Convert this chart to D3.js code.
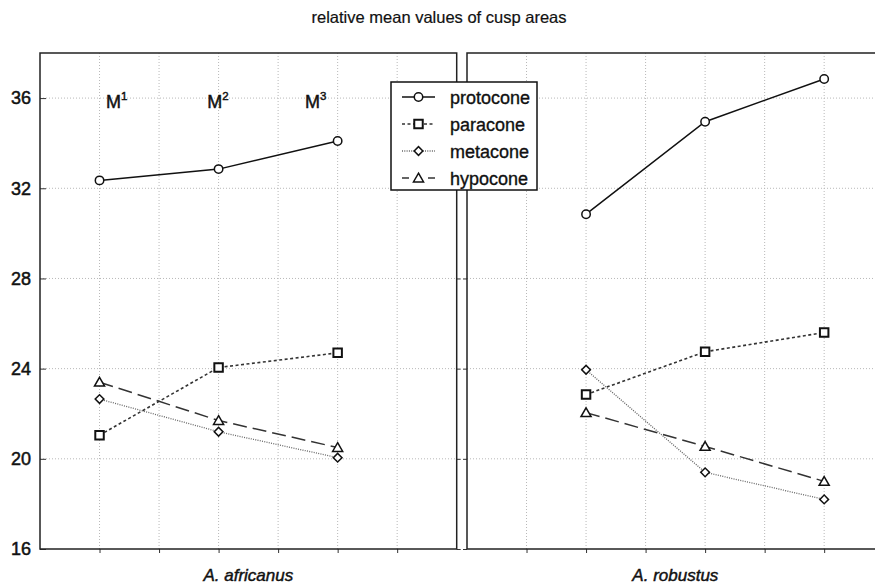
<!DOCTYPE html>
<html>
<head>
<meta charset="utf-8">
<script src="https://cdn.jsdelivr.net/npm/d3@7"></script>
<style>
body { margin: 0; background: #fff; }
svg { display: block; font-family: "Liberation Sans", Arial, sans-serif; }
.grid line { stroke: #b8b8b8; stroke-width: 1px; stroke-dasharray: 1,2; }
.frame { fill: none; stroke: #222; stroke-width: 1.5px; }
.axis path { display: none; }
.axis line { stroke: #333; }
.axis text { font-size: 18px; fill: #111; stroke: #111; stroke-width: 0.5px; }
.title { font-size: 16.5px; fill: #111; stroke: #111; stroke-width: 0.2px; }
.panel-label { font-size: 17px; font-style: italic; fill: #111; stroke: #111; stroke-width: 0.45px; }
.molar { font-size: 18px; fill: #111; stroke: #111; stroke-width: 0.45px; }
.legend text { font-size: 18px; fill: #111; stroke: #111; stroke-width: 0.35px; }
</style>
</head>
<body>
<svg id="chart" width="875" height="585"></svg>
<script>
// data
var taxa = ['A. africanus', 'A. robustus'];
var molars = ['1', '2', '3'];
var cusps = ['protocone', 'paracone', 'metacone', 'hypocone'];
var africanus = {
	protocone: [32.35, 32.85, 34.1],
	paracone: [21.05, 24.05, 24.7],
	metacone: [22.65, 21.2, 20.05],
	hypocone: [23.4, 21.7, 20.5]
};
var robustus = {
	protocone: [30.85, 34.95, 36.85],
	paracone: [22.85, 24.75, 25.6],
	metacone: [23.95, 19.4, 18.2],
	hypocone: [22.05, 20.55, 19.0]
};
// category slot of M1..M3 on each panel's x-axis
var slots = [[1, 3, 5], [2, 4, 6]];
var yTicks = [16, 20, 24, 28, 32, 36];

var W = 875, H = 585;
var frame = { top: 53, bottom: 549, left: 40, panelWidth: 416.7, gap: 10.3 };

var styles = {
	protocone: { dash: null, color: '#111', width: 1.5, marker: 'circle' },
	paracone: { dash: '3,2.5', color: '#333', width: 1.6, marker: 'square' },
	metacone: { dash: '1,1.3', color: '#666', width: 1.3, marker: 'diamond' },
	hypocone: { dash: '14,6', color: '#333', width: 1.5, marker: 'triangle' }
};

var svg = d3.select('#chart');
var y = d3.scaleLinear().domain([16, 38]).range([frame.bottom, frame.top]);

svg.append('text').attr('class', 'title')
	.attr('x', 439).attr('y', 23).attr('text-anchor', 'middle')
	.text('relative mean values of cusp areas');

function marker(g, type, cx, cy) {
	var sym = { circle: d3.symbolCircle, square: d3.symbolSquare, diamond: d3.symbolSquare, triangle: d3.symbolTriangle }[type];
	var size = { circle: 56, square: 72, diamond: 38, triangle: 44 }[type];
	g.append('path')
		.attr('d', d3.symbol(sym, size)())
		.attr('transform', 'translate(' + cx + ',' + (type == 'triangle' ? cy + 1 : cy) + ')' + (type == 'diamond' ? ' rotate(45)' : ''))
		.attr('fill', '#fff').attr('stroke', '#111')
		.attr('stroke-width', type == 'square' ? 2 : 1.5);
}

[africanus, robustus].forEach(function (series, p) {
	var x0 = frame.left + p * (frame.panelWidth + frame.gap);
	var x = d3.scaleLinear().domain([0, 7]).range([x0, x0 + frame.panelWidth]);
	var g = svg.append('g');

	// gridlines
	var grid = g.append('g').attr('class', 'grid');
	grid.selectAll('.v').data(d3.range(1, 7)).join('line').attr('class', 'v')
		.attr('x1', d => x(d)).attr('x2', d => x(d))
		.attr('y1', frame.top).attr('y2', frame.bottom);
	grid.selectAll('.h').data(yTicks.slice(1)).join('line').attr('class', 'h')
		.attr('x1', x0).attr('x2', x0 + frame.panelWidth)
		.attr('y1', d => y(d)).attr('y2', d => y(d));

	// axes
	g.append('g').attr('class', 'axis')
		.attr('transform', 'translate(' + x0 + ',0)')
		.call(d3.axisLeft(y).tickValues(yTicks).tickSize(p == 0 ? -6 : 4).tickPadding(9)
			.tickFormat(p == 0 ? d3.format('d') : ''));
	g.append('g').attr('class', 'axis')
		.attr('transform', 'translate(' + (x0 + frame.panelWidth) + ',0)')
		.call(d3.axisRight(y).tickValues(yTicks).tickSize(4).tickFormat(''));
	g.append('g').attr('class', 'axis')
		.attr('transform', 'translate(0,' + frame.bottom + ')')
		.call(d3.axisBottom(x).tickValues(d3.range(1, 7)).tickSize(4).tickFormat(''));

	g.append('rect').attr('class', 'frame')
		.attr('x', x0).attr('y', frame.top)
		.attr('width', frame.panelWidth).attr('height', frame.bottom - frame.top);

	g.append('text').attr('class', 'panel-label')
		.attr('x', x0 + frame.panelWidth / 2).attr('y', 581).attr('text-anchor', 'middle')
		.text(taxa[p]);

	// series
	cusps.forEach(function (c) {
		var st = styles[c];
		var pts = series[c].map((v, i) => [x(slots[p][i]), y(v)]);
		g.append('path').attr('d', d3.line()(pts))
			.attr('fill', 'none').attr('stroke', st.color).attr('stroke-width', st.width)
			.attr('stroke-dasharray', st.dash);
		pts.forEach(pt => marker(g, st.marker, pt[0], pt[1]));
	});

	// molar labels on the first panel
	if (p == 0) {
		var molarX = [1.11, 2.81, 4.45];
		molars.forEach(function (m, i) {
			var t = g.append('text').attr('class', 'molar')
				.attr('x', x(molarX[i])).attr('y', y(35.55));
			t.append('tspan').text('M');
			t.append('tspan').attr('dy', -8).attr('font-size', 11.5).text(m);
		});
	}
});

// legend
var lg = svg.append('g').attr('class', 'legend');
lg.append('rect').attr('x', 391).attr('y', 82).attr('width', 146).attr('height', 108)
	.attr('fill', '#fff').attr('stroke', '#111').attr('stroke-width', 1.5);
cusps.forEach(function (c, i) {
	var st = styles[c];
	var cy = 97 + i * 27;
	lg.append('line').attr('x1', 402).attr('x2', 435).attr('y1', cy).attr('y2', cy)
		.attr('stroke', st.color).attr('stroke-width', st.width)
		.attr('stroke-dasharray', c == 'hypocone' ? '7,19' : st.dash);
	marker(lg, st.marker, 418.5, cy);
	lg.append('text').attr('x', 450).attr('y', cy + 7).text(c);
});
</script>
</body>
</html>
